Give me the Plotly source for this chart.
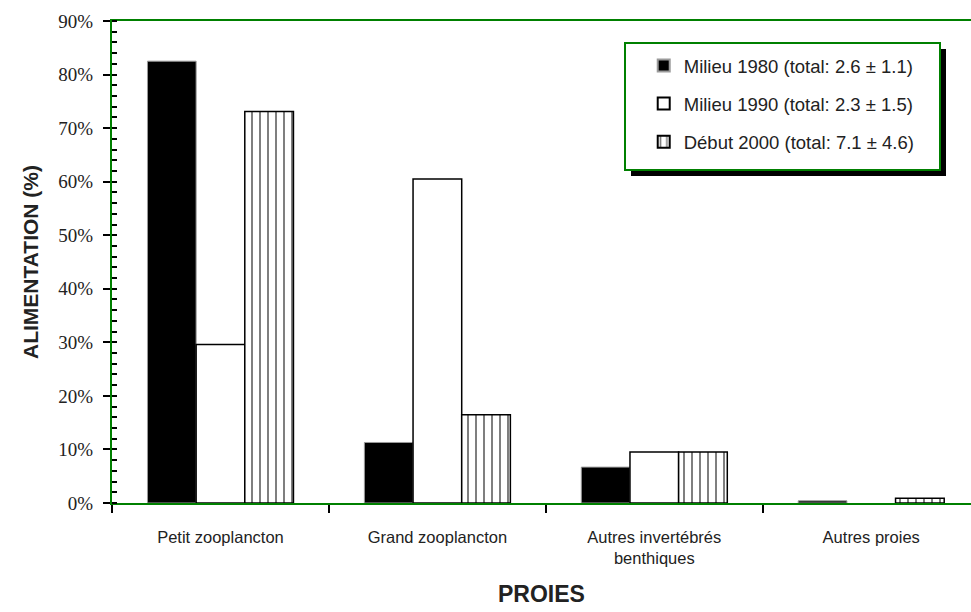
import plotly.graph_objects as go

# Prey categories and diet share (%) for each period
categories = ["Petit zooplancton", "Grand zooplancton",
              "Autres invertébrés<br>benthiques", "Autres proies"]
series_names = ["Milieu 1980 (total: 2.6 ± 1.1)",
                "Milieu 1990 (total: 2.3 ± 1.5)",
                "Début 2000 (total: 7.1 ± 4.6)"]
mid_1980 = [82.5, 11.3, 6.7, 0.4]
mid_1990 = [29.6, 60.5, 9.5, 0.0]
early_2000 = [73.1, 16.5, 9.5, 0.9]
y_ticks = [0, 10, 20, 30, 40, 50, 60, 70, 80, 90]

GREEN = "#008000"
SANS = "Liberation Sans, Arial, sans-serif"
SERIF = "Liberation Serif, Times New Roman, serif"


def outline_widths(values, width):
    # empty bars get no outline so nothing is drawn over the axis line
    return [width if v > 0 else 0 for v in values]


fig = go.Figure()

fig.add_trace(go.Bar(
    x=categories, y=[v / 100 for v in mid_1980], name=series_names[0],
    legendgroup="a",
    marker=dict(color="black",
                line=dict(color="#9a9a9a", width=outline_widths(mid_1980, 1))),
))
fig.add_trace(go.Bar(
    x=categories, y=[v / 100 for v in mid_1990], name=series_names[1],
    legendgroup="b",
    marker=dict(color="white",
                line=dict(color="black", width=outline_widths(mid_1990, 1.5))),
))
fig.add_trace(go.Bar(
    x=categories, y=[v / 100 for v in early_2000], name=series_names[2],
    legendgroup="c",
    marker=dict(color="white",
                line=dict(color="black", width=outline_widths(early_2000, 1.5)),
                pattern=dict(shape="|", size=8, solidity=0.25,
                             fgcolor="black", bgcolor="white")),
))

# invisible companion axis used only for the inner half of the major ticks
fig.add_trace(go.Scatter(x=[categories[0]], y=[0], yaxis="y2",
                         mode="markers", marker=dict(opacity=0),
                         showlegend=False, hoverinfo="skip"))

fig.update_layout(
    width=971, height=612,
    margin=dict(l=112, r=0, t=21, b=109),
    paper_bgcolor="white", plot_bgcolor="white",
    barmode="group", bargap=0.327, bargroupgap=0,
    showlegend=True,
    legend=dict(
        x=0.619, y=0.946, xanchor="left", yanchor="top",
        bgcolor="rgba(0,0,0,0)", borderwidth=0,
        font=dict(family=SANS, size=18.5, color="#222"),
        tracegroupgap=11, itemsizing="constant",
    ),
    xaxis=dict(
        type="category", range=[-0.5, 3.46],
        showline=True, linecolor=GREEN, linewidth=2, mirror=True,
        ticks="outside", tickson="boundaries", ticklen=8,
        tickcolor="black", tickwidth=1.5,
        tickfont=dict(family=SANS, size=16.5, color="#222"),
        ticklabelstandoff=18,
        showgrid=False, zeroline=False,
        title=dict(text="<b>PROIES</b>", standoff=20,
                   font=dict(family=SANS, size=23, color="#222")),
    ),
    yaxis=dict(
        range=[0, 0.9], tickvals=[t / 100 for t in y_ticks],
        tickformat=".0%",
        showline=True, linecolor=GREEN, linewidth=2,
        ticks="outside", ticklen=7, tickcolor="black", tickwidth=1.5,
        minor=dict(dtick=0.02, ticks="inside", ticklen=5,
                   tickcolor="black", tickwidth=1.5),
        tickfont=dict(family=SERIF, size=19, color="#222"),
        ticklabelstandoff=6,
        showgrid=False, zeroline=False,
        title=dict(text="<b>ALIMENTATION (%)</b>", standoff=14,
                   font=dict(family=SANS, size=21, color="#222")),
    ),
    yaxis2=dict(
        overlaying="y", range=[0, 0.9], side="left",
        tickvals=[t / 100 for t in y_ticks], showticklabels=False,
        ticks="inside", ticklen=5, tickcolor="black", tickwidth=1.5,
        showline=False, showgrid=False, zeroline=False,
    ),
    shapes=[
        # legend frame drop shadow
        dict(type="rect", xref="paper", yref="paper",
             x0=(631 - 112) / 859, x1=(946 - 112) / 859,
             y0=(503 - 176) / 482, y1=(503 - 49) / 482,
             fillcolor="black", line=dict(width=0), layer="above"),
        # legend frame
        dict(type="rect", xref="paper", yref="paper",
             x0=(625 - 112) / 859, x1=(940 - 112) / 859,
             y0=(503 - 170) / 482, y1=(503 - 43) / 482,
             fillcolor="white", line=dict(color=GREEN, width=2),
             layer="above"),
    ],
)

fig.write_html("out.html")
